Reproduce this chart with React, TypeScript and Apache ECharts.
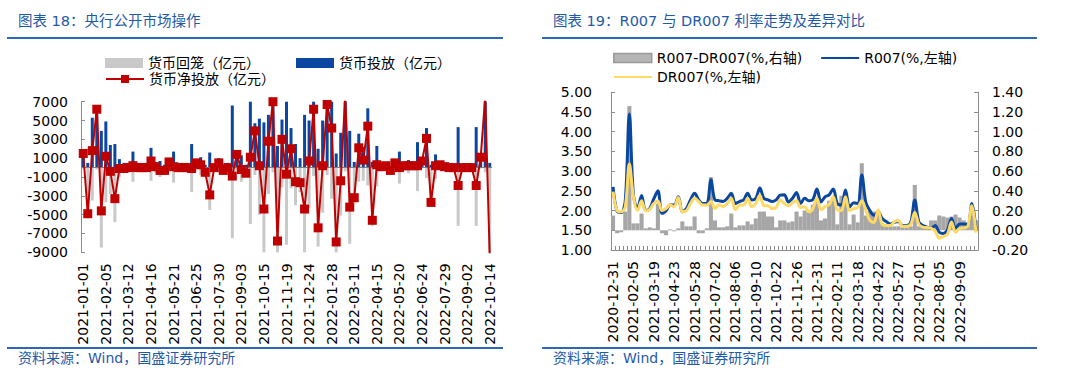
import React, { useEffect, useRef } from "react";
import * as echarts from "echarts";

const LEFT_DATES = [
  "2021-01-01","2021-01-08","2021-01-15","2021-01-22","2021-01-29","2021-02-05","2021-02-12","2021-02-19","2021-02-26","2021-03-05",
  "2021-03-12","2021-03-19","2021-03-26","2021-04-02","2021-04-09","2021-04-16","2021-04-23","2021-04-30","2021-05-07","2021-05-14",
  "2021-05-21","2021-05-28","2021-06-04","2021-06-11","2021-06-18","2021-06-25","2021-07-02","2021-07-09","2021-07-16","2021-07-23",
  "2021-07-30","2021-08-06","2021-08-13","2021-08-20","2021-08-27","2021-09-03","2021-09-10","2021-09-17","2021-09-24","2021-10-08",
  "2021-10-15","2021-10-22","2021-10-29","2021-11-05","2021-11-12","2021-11-19","2021-11-26","2021-12-03","2021-12-10","2021-12-17",
  "2021-12-24","2021-12-31","2022-01-07","2022-01-14","2022-01-21","2022-01-28","2022-02-11","2022-02-18","2022-02-25","2022-03-04",
  "2022-03-11","2022-03-18","2022-03-25","2022-04-01","2022-04-08","2022-04-15","2022-04-22","2022-04-29","2022-05-06","2022-05-13",
  "2022-05-20","2022-05-27","2022-06-03","2022-06-10","2022-06-17","2022-06-24","2022-07-01","2022-07-08","2022-07-15","2022-07-22",
  "2022-07-29","2022-08-05","2022-08-12","2022-08-19","2022-08-26","2022-09-02","2022-09-09","2022-09-16","2022-09-23","2022-09-30",
  "2022-10-14"
];

// 货币净投放（亿元）
const NET_INJECTION = [
  1500, -4900, 1800, 6200, -4600, 1200, -400, -3300, -100, -100,
  0, 200, 0, 0, 0, 700, 100, -300, -300, 600,
  100, 0, 0, 0, -100, 500, 300, -500, -2900, 0,
  500, -300, 0, -900, 1400, -200, -600, 1100, 3900, 200,
  -4400, 2800, 7000, -7800, 3000, -700, 2000, -1500, -1600, -4400,
  700, 6200, -6400, 200, 6700, 4200, -7900, -1400, 7600, -4200,
  -3200, 2100, 800, 4400, -5600, 300, 100, 200, -300, 500,
  0, 200, 200, 200, 200, 700, 3100, -3700, 200, 300,
  100, 0, 0, -1900, 0, 0, 0, -1900, 1100, 7500,
  -9500
];

// 货币投放（亿元）
const INJECTION = [
  1600, 500, 5300, 6400, 3900, 4900, 2400, 2500, 900, 500,
  500, 1700, 500, 500, 500, 2100, 600, 700, 300, 700,
  1700, 500, 500, 500, 2500, 600, 1100, 300, 1600, 400,
  1000, 300, 500, 6600, 1700, 1300, 300, 7100, 4700, 5200,
  4800, 5600, 7500, 2300, 5100, 7500, 4200, 2500, 1000, 5600,
  5000, 7100, 2000, 5000, 7500, 7500, 1500, 3700, 8000, 3900,
  600, 3600, 2200, 6300, 600, 2300, 500, 400, 200, 700,
  1700, 400, 800, 300, 2700, 800, 4200, 300, 1400, 400,
  200, 100, 100, 4300, 100, 100, 100, 4300, 1200, 8000,
  500
];

// 货币回笼（亿元）
const WITHDRAWAL = [
  -100, -5400, -3500, -200, -8500, -3700, -2800, -5800, -1000, -600,
  -500, -1500, -500, -500, -500, -1400, -500, -1000, -600, -100,
  -1600, -500, -500, -500, -2600, -100, -800, -800, -4500, -400,
  -500, -600, -500, -7500, -300, -1500, -900, -6000, -800, -5000,
  -9200, -2800, -500, -10100, -2100, -8200, -2200, -4000, -2600, -10000,
  -4300, -900, -8400, -4800, -800, -3300, -9400, -5100, -400, -8100,
  -3800, -1500, -1400, -1900, -6200, -2000, -400, -200, -500, -200,
  -1700, -200, -600, -100, -2500, -100, -1100, -4000, -1200, -100,
  -100, -100, -100, -6200, -100, -100, -100, -6200, -100, -500,
  -10000
];

const RIGHT_DATES = [
  "2020-12-31","2021-01-08","2021-01-15","2021-01-22","2021-01-29","2021-02-05","2021-02-19","2021-02-26","2021-03-05","2021-03-12",
  "2021-03-19","2021-03-26","2021-04-02","2021-04-09","2021-04-16","2021-04-23","2021-04-30","2021-05-07","2021-05-14","2021-05-21",
  "2021-05-28","2021-06-04","2021-06-11","2021-06-18","2021-06-25","2021-07-02","2021-07-09","2021-07-16","2021-07-23","2021-07-30",
  "2021-08-06","2021-08-13","2021-08-20","2021-08-27","2021-09-03","2021-09-10","2021-09-17","2021-09-24","2021-10-08","2021-10-15",
  "2021-10-22","2021-10-29","2021-11-05","2021-11-12","2021-11-19","2021-11-26","2021-12-03","2021-12-10","2021-12-17","2021-12-24",
  "2021-12-31","2022-01-07","2022-01-14","2022-01-21","2022-01-28","2022-02-11","2022-02-18","2022-02-25","2022-03-04","2022-03-11",
  "2022-03-18","2022-03-25","2022-04-01","2022-04-08","2022-04-15","2022-04-22","2022-04-29","2022-05-06","2022-05-13","2022-05-20",
  "2022-05-27","2022-06-03","2022-06-10","2022-06-17","2022-06-24","2022-07-01","2022-07-08","2022-07-15","2022-07-22","2022-07-29",
  "2022-08-05","2022-08-12","2022-08-19","2022-08-26","2022-09-02","2022-09-09","2022-09-16","2022-09-23","2022-09-30","2022-10-14"
];

const R007 = [
  2.60, 1.98, 1.95, 2.25, 4.45, 2.40, 2.05, 2.38, 2.00, 2.05,
  2.30, 2.50, 1.93, 2.00, 2.14, 2.14, 2.35, 1.97, 2.05, 2.27,
  2.44, 2.27, 2.18, 2.18, 2.78, 2.27, 2.25, 2.23, 2.31, 2.44,
  2.18, 2.23, 2.27, 2.44, 2.27, 2.31, 2.57, 2.31, 2.27, 2.23,
  2.27, 2.39, 2.40, 2.22, 2.31, 2.46, 2.18, 2.31, 2.25, 2.28,
  2.55, 2.22, 2.35, 2.40, 2.55, 2.18, 2.14, 2.52, 2.09, 2.20,
  2.18, 2.90, 2.20, 2.00, 1.88, 1.97, 1.80, 1.72, 1.66, 1.70,
  1.72, 1.62, 1.62, 1.70, 2.27, 1.71, 1.62, 1.58, 1.55, 1.62,
  1.45, 1.42, 1.51, 1.80, 1.55, 1.66, 1.66, 1.65, 2.18, 1.52
];

const DR007 = [
  2.48, 2.00, 1.97, 2.10, 3.18, 2.35, 2.00, 2.25, 1.99, 2.03,
  2.18, 2.24, 2.00, 2.05, 2.14, 2.10, 2.33, 1.97, 2.00, 2.18,
  2.31, 2.23, 2.14, 2.14, 2.23, 2.05, 2.15, 2.10, 2.18, 2.31,
  2.02, 2.14, 2.14, 2.31, 2.10, 2.18, 2.39, 2.12, 2.12, 2.05,
  2.08, 2.27, 2.18, 2.12, 2.20, 2.25, 2.08, 2.10, 1.97, 2.05,
  2.31, 2.02, 2.10, 2.15, 2.35, 2.02, 2.00, 2.35, 2.00, 2.05,
  2.08, 2.25, 2.00, 1.75, 1.70, 2.02, 1.65, 1.62, 1.62, 1.72,
  1.75, 1.60, 1.60, 1.65, 1.95, 1.65, 1.58, 1.57, 1.55, 1.48,
  1.30, 1.34, 1.40, 1.71, 1.45, 1.55, 1.56, 1.60, 2.12, 1.44
];

const SPREAD = [
  0.15, -0.03, -0.02, 0.19, 1.26, 0.07, 0.07, 0.17, 0.02, 0.03,
  0.02, 0.27, -0.03, -0.05, 0.01, -0.01, 0.02, 0.09, 0.04, 0.04,
  0.14, -0.03, -0.03, 0.02, 0.54, 0.10, 0.03, 0.03, 0.04, 0.17,
  0.03, 0.05, 0.05, 0.09, 0.06, 0.12, 0.19, 0.19, 0.14, 0.14,
  0.03, 0.10, 0.10, 0.08, 0.09, 0.19, 0.14, 0.20, 0.20, 0.26,
  0.30, 0.10, 0.12, 0.30, 0.32, 0.06, 0.35, 0.33, 0.06, 0.16,
  0.08, 0.68, 0.15, 0.20, 0.19, 0.17, 0.07, 0.04, 0.04, 0.04,
  0.04, 0.03, 0.03, 0.04, 0.46, 0.04, 0.04, 0.03, 0.10, 0.10,
  0.15, 0.14, 0.13, 0.14, 0.16, 0.13, 0.10, 0.08, 0.15, 0.10
];

const FONT = "'DejaVu Sans', 'Noto Sans CJK SC', sans-serif";
const TITLE_BLUE = "#1f5aa8";
const RULE_BLUE = "#2e67b8";
const AXIS_GRAY = "#8c8c8c";
const HIDDEN_SYMBOL = { color: "rgba(0,0,0,0)", borderColor: "rgba(0,0,0,0)", borderWidth: 0 };

export default function App() {
  const ref = useRef<HTMLDivElement>(null);

  useEffect(() => {
    const chart = echarts.init(ref.current as HTMLDivElement, null, { renderer: "svg" });
    const axisLabel = { fontSize: 14, color: "#000", fontFamily: FONT };
    const option: any = {
      animation: false,
      textStyle: { fontFamily: FONT },
      grid: [
        { left: 81, top: 101.7, width: 411, height: 150.6 },
        { left: 611, top: 92.3, width: 367, height: 157.7 },
      ],
      xAxis: [
        {
          type: "category",
          gridIndex: 0,
          data: LEFT_DATES,
          boundaryGap: true,
          axisLine: { show: false, onZero: false },
          axisTick: { show: false },
          axisLabel: { ...axisLabel, interval: 4, rotate: 90, margin: 11 },
        },
        {
          type: "category",
          gridIndex: 1,
          data: RIGHT_DATES,
          boundaryGap: true,
          axisLine: { show: true, onZero: false, lineStyle: { color: AXIS_GRAY } },
          axisTick: { show: true, inside: true, length: 4, interval: 0, lineStyle: { color: AXIS_GRAY } },
          axisLabel: { ...axisLabel, interval: 4, rotate: 90, margin: 11 },
        },
      ],
      yAxis: [
        {
          type: "value",
          gridIndex: 0,
          min: -9000,
          max: 7000,
          interval: 2000,
          splitLine: { show: false },
          axisLine: { show: true, lineStyle: { color: AXIS_GRAY } },
          axisTick: { show: true, inside: true, length: 4, lineStyle: { color: AXIS_GRAY } },
          axisLabel: { ...axisLabel, margin: 13, formatter: (v: number) => String(v) },
        },
        {
          type: "value",
          gridIndex: 1,
          position: "left",
          min: 1,
          max: 5,
          interval: 0.5,
          splitLine: { show: false },
          axisLine: { show: true, onZero: false, lineStyle: { color: AXIS_GRAY } },
          axisTick: { show: true, inside: true, length: 4, lineStyle: { color: AXIS_GRAY } },
          axisLabel: { ...axisLabel, margin: 19, formatter: (v: number) => v.toFixed(2) },
        },
        {
          type: "value",
          gridIndex: 1,
          position: "right",
          min: -0.2,
          max: 1.4,
          interval: 0.2,
          splitLine: { show: false },
          axisLine: { show: true, onZero: false, lineStyle: { color: AXIS_GRAY } },
          axisTick: { show: true, inside: true, length: 4, lineStyle: { color: AXIS_GRAY } },
          axisLabel: { ...axisLabel, margin: 14, formatter: (v: number) => v.toFixed(2) },
        },
      ],
      legend: [
        {
          data: [
            { name: "货币回笼（亿元）", icon: "rect" },
            { name: "货币投放（亿元）", icon: "rect" },
          ],
          left: 100,
          top: 51,
          itemWidth: 38,
          itemHeight: 10,
          itemGap: 36,
          textStyle: { fontSize: 14, color: "#000", fontFamily: FONT },
        },
        {
          data: ["货币净投放（亿元）"],
          left: 100,
          top: 67,
          itemWidth: 38,
          itemHeight: 10,
          textStyle: { fontSize: 14, color: "#000", fontFamily: FONT },
        },
        {
          data: [
            {
              name: "R007-DR007(%,右轴)",
              icon: "rect",
              itemStyle: { color: "#b5b5b5", borderColor: "#9a9a9a", borderWidth: 1.5 },
            },
            { name: "R007(%,左轴)", itemStyle: HIDDEN_SYMBOL },
          ],
          left: 608,
          top: 46,
          itemWidth: 38,
          itemHeight: 9,
          itemGap: 18,
          textStyle: { fontSize: 14, color: "#000", fontFamily: FONT },
        },
        {
          data: [{ name: "DR007(%,左轴)", itemStyle: HIDDEN_SYMBOL }],
          left: 608,
          top: 65,
          itemWidth: 38,
          itemHeight: 9,
          textStyle: { fontSize: 14, color: "#000", fontFamily: FONT },
        },
      ],
      series: [
        {
          name: "货币回笼（亿元）",
          type: "bar",
          xAxisIndex: 0,
          yAxisIndex: 0,
          data: WITHDRAWAL,
          barWidth: 3,
          barGap: "-100%",
          clip: true,
          itemStyle: { color: "#c9c9c9" },
          markLine: {
            silent: true,
            symbol: "none",
            label: { show: false },
            lineStyle: { color: "#7f7f7f", width: 1, type: "solid" },
            data: [{ yAxis: 0 }],
          },
        },
        {
          name: "货币投放（亿元）",
          type: "bar",
          xAxisIndex: 0,
          yAxisIndex: 0,
          data: INJECTION,
          barWidth: 3,
          barGap: "-100%",
          clip: true,
          itemStyle: { color: "#0b47a1" },
        },
        {
          name: "货币净投放（亿元）",
          type: "line",
          xAxisIndex: 0,
          yAxisIndex: 0,
          data: NET_INJECTION,
          symbol: "rect",
          symbolSize: 9,
          showSymbol: true,
          showAllSymbol: true,
          clip: true,
          z: 5,
          lineStyle: { color: "#c00000", width: 2 },
          itemStyle: { color: "#c00000" },
        },
        {
          name: "R007-DR007(%,右轴)",
          type: "bar",
          xAxisIndex: 1,
          yAxisIndex: 2,
          data: SPREAD,
          barCategoryGap: "0%",
          clip: true,
          itemStyle: { color: "#a6a6a6" },
        },
        {
          name: "R007(%,左轴)",
          type: "line",
          xAxisIndex: 1,
          yAxisIndex: 1,
          data: R007,
          smooth: 0.35,
          symbol: "none",
          clip: true,
          z: 4,
          lineStyle: { color: "#0a47a0", width: 3 },
          itemStyle: { color: "#0a47a0" },
        },
        {
          name: "DR007(%,左轴)",
          type: "line",
          xAxisIndex: 1,
          yAxisIndex: 1,
          data: DR007,
          smooth: 0.35,
          symbol: "none",
          clip: true,
          z: 5,
          lineStyle: { color: "#ffd966", width: 3 },
          itemStyle: { color: "#ffd966" },
        },
      ],
      graphic: [
        {
          type: "text",
          x: 18,
          y: 21,
          style: { text: "图表 18：央行公开市场操作", fill: TITLE_BLUE, fontSize: 14.5, fontFamily: FONT, verticalAlign: "middle" },
        },
        { type: "rect", shape: { x: 7, y: 37, width: 496, height: 2 }, style: { fill: RULE_BLUE } },
        {
          type: "text",
          x: 553,
          y: 21,
          style: { text: "图表 19：R007 与 DR007 利率走势及差异对比", fill: TITLE_BLUE, fontSize: 14.5, fontFamily: FONT, verticalAlign: "middle" },
        },
        { type: "rect", shape: { x: 542, y: 37, width: 495, height: 2 }, style: { fill: RULE_BLUE } },
        { type: "rect", shape: { x: 7, y: 347, width: 496, height: 2 }, style: { fill: RULE_BLUE } },
        {
          type: "text",
          x: 18,
          y: 358,
          style: { text: "资料来源：Wind，国盛证券研究所", fill: TITLE_BLUE, fontSize: 14, fontFamily: FONT, verticalAlign: "middle" },
        },
        { type: "rect", shape: { x: 542, y: 347, width: 495, height: 2 }, style: { fill: RULE_BLUE } },
        {
          type: "text",
          x: 553,
          y: 358,
          style: { text: "资料来源：Wind，国盛证券研究所", fill: TITLE_BLUE, fontSize: 14, fontFamily: FONT, verticalAlign: "middle" },
        },
      ],
    };
    chart.setOption(option);
    return () => {
      chart.dispose();
    };
  }, []);

  return (
    <div
      ref={ref}
      style={{ position: "absolute", left: 0, top: 0, width: 1080, height: 380, background: "#fff" }}
    />
  );
}
